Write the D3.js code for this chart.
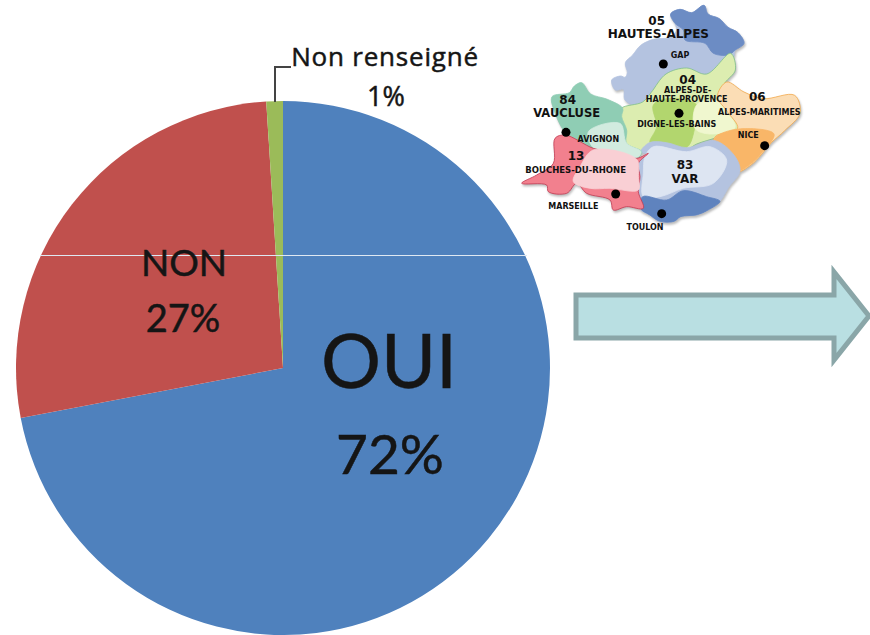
<!DOCTYPE html>
<html><head><meta charset="utf-8">
<style>html,body{margin:0;padding:0;background:#fff;overflow:hidden}svg{display:block}</style>
<script src="https://cdn.jsdelivr.net/npm/d3@7"></script></head>
<body><svg id="c" width="870" height="635"></svg>
<script>
const categories=["OUI","NON","Non renseigné"];
const values=[72,27,1];
const colors=["#4F81BD","#C0504D","#9BBB59"];
const arrowShape=[[576,295],[834,295],[834,272],[869,316],[834,360],[834,338],[576,338]];
const regions=[
 {fill:"#B4C3E0",stroke:"#B4C3E0",pts:[[305,240],[332,228],[345,232],[352,218],[346,188],[368,165],[392,136],[430,118],[480,112],[500,90],[490,60],[482,42],[510,28],[545,38],[582,16],[594,42],[628,56],[654,82],[684,98],[702,130],[676,150],[670,172],[630,190],[590,230],[530,215],[470,230],[435,262],[416,294],[385,318],[345,300],[340,268],[316,270]]},
 {fill:"#6C8CC4",stroke:"#6C8CC4",pts:[[482,42],[510,28],[545,38],[582,16],[594,42],[628,56],[654,82],[684,98],[702,130],[676,150],[655,165],[610,160],[585,130],[525,120],[520,90],[495,70]]},
 {fill:"#DCEDB0",stroke:"#7FBF8A",pts:[[334,325],[398,306],[423,278],[468,222],[530,204],[590,222],[662,160],[676,210],[644,250],[629,290],[654,330],[690,386],[622,412],[560,432],[530,448],[470,434],[422,434],[395,458],[347,432],[347,392],[331,350]]},
 {fill:"#B2D66E",stroke:"#B2D66E",pts:[[430,315],[480,295],[560,315],[555,380],[530,442],[470,428],[420,428],[440,380]]},
 {fill:"#F0F7CF",stroke:"#F0F7CF",pts:[[560,315],[620,300],[650,332],[675,383],[600,402],[555,385]]},
 {fill:"#FBDDB5",stroke:"#F3A94C",pts:[[622,290],[650,246],[702,276],[760,296],[854,286],[870,340],[824,392],[784,428],[754,464],[724,494],[680,516],[666,472],[611,426],[618,408],[683,385],[648,330]]},
 {fill:"#F9B668",stroke:"#F9B668",pts:[[618,410],[685,387],[792,402],[752,462],[722,492],[680,514],[668,472],[613,426]]},
 {fill:"#B4C3E0",stroke:"#B4C3E0",pts:[[392,472],[415,462],[392,456],[418,428],[470,428],[530,443],[615,422],[674,468],[690,514],[656,562],[630,604],[594,630],[562,644],[512,650],[492,664],[450,664],[418,644],[390,628],[380,576],[385,530],[380,490]]},
 {fill:"#DDE5F2",stroke:"#DDE5F2",pts:[[405,470],[430,440],[530,455],[600,440],[650,480],[610,550],[520,565],[450,590],[400,590],[400,520]]},
 {fill:"#5F83BE",stroke:"#5F83BE",pts:[[398,590],[470,600],[520,572],[590,590],[630,604],[594,630],[562,644],[512,650],[492,664],[450,664],[418,644],[392,626]]},
 {fill:"#8FCDB4",stroke:"#8FCDB4",pts:[[126,290],[178,278],[193,258],[215,248],[242,282],[292,298],[338,325],[335,350],[350,390],[350,430],[395,455],[380,475],[300,455],[250,445],[190,412],[162,392],[136,340]]},
 {fill:"#D2EBDF",stroke:"#D2EBDF",pts:[[235,395],[330,370],[350,430],[393,455],[380,473],[300,453],[250,443]]},
 {fill:"#F2808E",stroke:"#C23A52",pts:[[135,415],[165,405],[250,445],[300,455],[380,475],[415,460],[385,490],[390,530],[385,575],[400,625],[350,620],[310,630],[300,600],[230,580],[200,550],[170,580],[115,575],[110,555],[35,550],[80,525],[130,490]]},
 {fill:"#F9CFD4",stroke:"#F9CFD4",pts:[[250,450],[380,478],[385,530],[385,570],[300,565],[240,565],[190,545],[210,500]]}
];
const cities=[[460,192],[507,340],[168,397],[764,437],[317,582],[455,641]];
const mapLabels=[
 ["05",440,75,12],["HAUTES-ALPES",445,115,12],["GAP",510,175,8],
 ["04",533,252,12],["ALPES-DE-",533,278,8],["HAUTE-PROVENCE",530,305,8],["DIGNE-LES-BAINS",500,380,8],
 ["84",173,313,12],["VAUCLUSE",170,352,11.5],["AVIGNON",265,425,8],
 ["06",742,304,12],["ALPES-MARITIMES",748,344,8],["NICE",715,414,8],
 ["13",198,481,12],["BOUCHES-DU-RHONE",197,520,8.5],["MARSEILLE",190,627,8],
 ["83",525,506,12],["VAR",525,548,12],["TOULON",405,690,8]
];
const svg=d3.select("#c");
const cx=283,cy=368,R=267;
const pie=d3.pie().sort(null)(values);
const arc=d3.arc().innerRadius(0).outerRadius(R);
const g=svg.append("g").attr("transform",`translate(${cx},${cy})`);
g.selectAll("path").data(pie).join("path").attr("d",arc).attr("fill",(d,i)=>colors[i]);
svg.append("line").attr("x1",40).attr("x2",527).attr("y1",255.5).attr("y2",255.5).attr("stroke","#dfe8f2").attr("stroke-width",1);
svg.append("path").attr("d","M275,102V67H291").attr("fill","none").attr("stroke","#444").attr("stroke-width",2);
const lato="Lato, sans-serif", openSans="'Open Sans', sans-serif";
const txt=[["OUI",389,388,75,lato,0],["72%",390,474,55,lato,0],["NON",184,276,37,lato,0],["27%",183,332,38,lato,0],["Non renseigné",385,66,26,openSans,0.8],["1%",386,106,27,openSans,0]];
svg.selectAll("text.lab").data(txt).join("text").attr("class","lab")
 .attr("x",d=>d[1]).attr("y",d=>d[2]).attr("font-size",d=>d[3]).attr("font-family",d=>d[4]).attr("letter-spacing",d=>d[5])
 .attr("text-anchor","middle").attr("fill","#151515").attr("stroke","#151515").attr("stroke-width",0.5).text(d=>d[0]);
svg.append("path").attr("d",d3.line()(arrowShape)+"Z").attr("fill","#B9DFE2").attr("stroke","#8AA6A8").attr("stroke-width",5);
const mx=d3.scaleLinear().domain([0,300]).range([510,610]);
const my=d3.scaleLinear().domain([0,300]).range([0,100]);
const line=d3.line().x(d=>mx(d[0])).y(d=>my(d[1])).curve(d3.curveCatmullRomClosed.alpha(0.5));
const mapShapes=svg.append("g").style("filter","drop-shadow(1px 2px 1px rgba(60,60,60,.35))");
mapShapes.selectAll("path").data(regions).join("path").attr("d",d=>line(d.pts)).attr("fill",d=>d.fill).attr("stroke",d=>d.stroke).attr("stroke-width",0.8);
const mapMarks=svg.append("g");
mapMarks.selectAll("circle").data(cities).join("circle").attr("cx",d=>mx(d[0])).attr("cy",d=>my(d[1])).attr("r",4.5).attr("fill","#000");
mapMarks.selectAll("text").data(mapLabels).join("text").attr("x",d=>mx(d[1])).attr("y",d=>my(d[2]))
 .attr("font-size",d=>d[3]).attr("font-family","'DejaVu Sans',sans-serif").attr("font-weight","bold")
 .attr("text-anchor","middle").attr("fill","#111").text(d=>d[0]);
</script></body></html>
